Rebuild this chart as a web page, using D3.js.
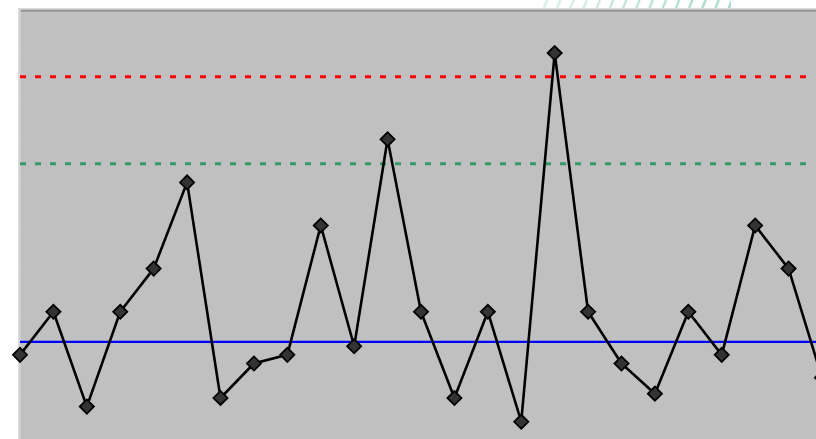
<!DOCTYPE html>
<html>
<head>
<meta charset="utf-8">
<script src="https://cdn.jsdelivr.net/npm/d3@7/dist/d3.min.js"></script>
<style>
  html, body { margin: 0; padding: 0; background: #ffffff; overflow: hidden; }
  svg { display: block; }
</style>
</head>
<body>
<svg id="chart" width="816" height="439"></svg>
<script>
// Sample index and measured values
const samples = d3.range(1, 26);
const values = [2, 3, 0.8, 3, 4, 6, 1, 1.8, 2, 5, 2.2, 7, 3, 1, 3, 0.45, 9, 3, 1.8, 1.1, 3, 2, 5, 4, 1.47];

// Control limits
const centerLine = 2.3;
const warningLimit = 6.43;
const upperLimit = 8.45;

// Y axis ticks
const yTicks = d3.range(0, 11);

const svg = d3.select("#chart");
const W = 816, H = 439;
const plot = { left: 20, top: 10, right: 830, bottom: 441 };

const x = d3.scaleLinear().domain([1, 25]).range([20, 822]);
const y = d3.scaleLinear().domain([0, 10]).range([441.1, 9.9]);

// Hatched header strip above the plot
const defs = svg.append("defs");
const pat = defs.append("pattern")
  .attr("id", "hatch").attr("patternUnits", "userSpaceOnUse")
  .attr("width", 13.2).attr("height", 10);
pat.append("line").attr("x1", 2).attr("y1", 10).attr("x2", 6).attr("y2", 0)
  .attr("stroke", "#9fd8bf").attr("stroke-width", 2.2);
const grad = defs.append("linearGradient").attr("id", "fade")
  .attr("x1", 0).attr("x2", 1).attr("y1", 0).attr("y2", 0);
grad.append("stop").attr("offset", 0).attr("stop-color", "#fff").attr("stop-opacity", 0.6);
grad.append("stop").attr("offset", 1).attr("stop-color", "#fff").attr("stop-opacity", 0);
svg.append("rect").attr("x", 543).attr("y", 0).attr("width", 188).attr("height", 8.5)
  .attr("fill", "url(#hatch)");
svg.append("rect").attr("x", 543).attr("y", 0).attr("width", 188).attr("height", 8.5)
  .attr("fill", "url(#fade)");

// Plot area
svg.append("rect")
  .attr("x", plot.left).attr("y", plot.top)
  .attr("width", plot.right - plot.left).attr("height", plot.bottom - plot.top)
  .attr("fill", "#c0c0c0");

// Frame: top border and left axis
svg.append("line").attr("x1", 18).attr("x2", W).attr("y1", 8.5).attr("y2", 8.5)
  .attr("stroke", "#d8d8d8").attr("stroke-width", 1);
svg.append("line").attr("x1", 19).attr("x2", W).attr("y1", 10.5).attr("y2", 10.5)
  .attr("stroke", "#8c8c8c").attr("stroke-width", 2);
svg.append("line").attr("x1", 19.5).attr("x2", 19.5).attr("y1", 9).attr("y2", H)
  .attr("stroke", "#d2d2d2").attr("stroke-width", 2.5);

// Y axis tick marks
const yAxis = d3.axisLeft(y).tickValues(yTicks).tickSize(3).tickFormat("");
const ga = svg.append("g").attr("transform", "translate(18.5,0)").call(yAxis);
ga.select(".domain").remove();
ga.selectAll(".tick line").attr("stroke", "#ffffff").attr("stroke-width", 1);

// Limit lines
svg.append("line")
  .attr("x1", plot.left).attr("x2", 808)
  .attr("y1", y(upperLimit)).attr("y2", y(upperLimit))
  .attr("stroke", "#ff0000").attr("stroke-width", 3)
  .attr("stroke-dasharray", "6 9");
svg.append("line")
  .attr("x1", plot.left).attr("x2", 808)
  .attr("y1", y(warningLimit)).attr("y2", y(warningLimit))
  .attr("stroke", "#339966").attr("stroke-width", 3)
  .attr("stroke-dasharray", "6 9");
svg.append("line")
  .attr("x1", plot.left).attr("x2", W)
  .attr("y1", y(centerLine)).attr("y2", y(centerLine))
  .attr("stroke", "#0000ff").attr("stroke-width", 2.4);

// Data series
const pts = samples.map((s, i) => ({ s, v: values[i] }));
svg.append("path")
  .datum(pts)
  .attr("fill", "none")
  .attr("stroke", "#000000")
  .attr("stroke-width", 2.6)
  .attr("stroke-linejoin", "round")
  .attr("d", d3.line().x(d => x(d.s)).y(d => y(d.v)));

const sym = d3.symbol().type(d3.symbolSquare).size(100);
svg.selectAll("path.marker")
  .data(pts)
  .join("path")
  .attr("class", "marker")
  .attr("transform", d => `translate(${x(d.s)},${y(d.v)}) rotate(45)`)
  .attr("d", sym)
  .attr("fill", "#333333")
  .attr("stroke", "#000000")
  .attr("stroke-width", 1.8);
</script>
</body>
</html>
